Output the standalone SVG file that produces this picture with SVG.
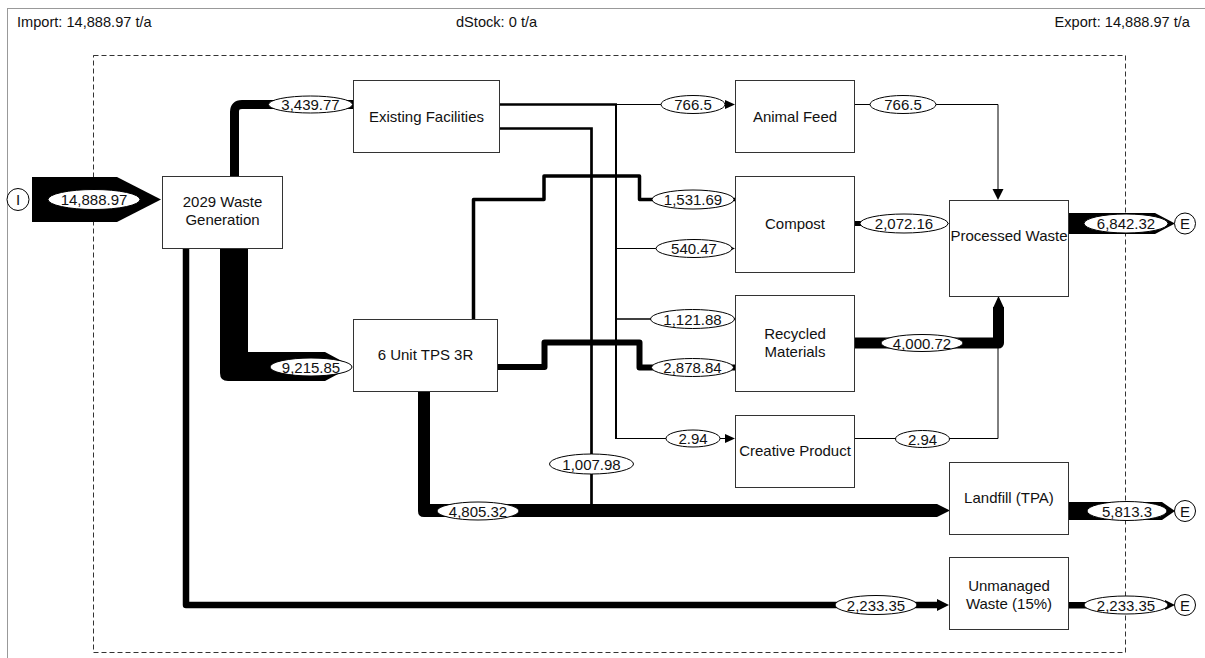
<svg xmlns="http://www.w3.org/2000/svg" width="1205" height="658" viewBox="0 0 1205 658">
<style>
text{font-family:"Liberation Sans",Arial,sans-serif;font-size:15px;fill:#111}
.hdr{font-size:14.6px}
.c{text-anchor:middle}
.box{fill:#fff;stroke:#333;stroke-width:1}
.lbl{fill:#fff;stroke:#000;stroke-width:1}
.io{fill:#fff;stroke:#000;stroke-width:1}
.ln{fill:none;stroke:#000}
.band{fill:#000;stroke:none}
.ah{fill:#000}
</style>
<rect x="0" y="0" width="1205" height="658" fill="#fff"/>
<rect x="7.5" y="8.5" width="1220" height="680" fill="none" stroke="#999" stroke-width="1"/>
<text class="hdr" x="17" y="27">Import: 14,888.97 t/a</text>
<text class="hdr" x="456" y="27">dStock: 0 t/a</text>
<text class="hdr" x="1190" y="27" text-anchor="end">Export: 14,888.97 t/a</text>
<rect id="boundary" x="93.5" y="55.5" width="1032" height="597" fill="none" stroke="#333" stroke-width="1" stroke-dasharray="5,3"/>

<g id="connectors">
  <!-- Import -->
  <polygon class="band" points="32,177 117,177 161,199.5 117,222 32,222"/>
  <!-- Gen -> Existing Facilities -->
  <path class="ln" stroke-width="9" d="M234.5 176 V112 Q234.5 104.5 242 104.5 H353"/>
  <!-- Gen -> TPS -->
  <path class="band" d="M220 248 H248 V352 H325 L352 366.5 L325 381 H228 Q220 381 220 373 Z"/>
  <!-- Gen -> Unmanaged -->
  <path class="ln" stroke-width="6.5" stroke-linejoin="round" d="M186 248 V605 H940"/>
  <polygon class="ah" points="937,599 949,605 937,611"/>
  <!-- TPS -> Landfill -->
  <path class="band" d="M418 391 H430 V504 H937 L950 510.5 L937 517 H424 Q418 517 418 511 Z"/>
  <!-- EF -> Landfill -->
  <path class="ln" stroke-width="2.7" d="M500 128.5 H591.5 V505"/>
  <!-- EF trunk -->
  <path class="ln" stroke-width="2.7" d="M500 104.5 H617"/>
  <path class="ln" stroke-width="2" d="M616 104 V438"/>
  <!-- EF -> Animal Feed -->
  <path class="ln" stroke-width="1" d="M616 104.5 H727"/>
  <polygon class="ah" points="725,100 735,104.5 725,109"/>
  <!-- EF -> Compost -->
  <path class="ln" stroke-width="1" d="M616 248.5 H727"/>
  <polygon class="ah" points="725,244 735,248.5 725,253"/>
  <!-- EF -> Recycled -->
  <path class="ln" stroke-width="1.5" d="M616 319 H735"/>
  <!-- EF -> Creative -->
  <path class="ln" stroke-width="1" d="M615 438.5 H727"/>
  <polygon class="ah" points="725,434 735,438.5 725,443"/>
  <!-- TPS -> Compost -->
  <path class="ln" stroke-width="3.5" stroke-linejoin="round" d="M473.5 319 V199.5 H544 V176 H639.5 V199.5 H735"/>
  <!-- TPS -> Recycled -->
  <path class="ln" stroke-width="6" stroke-linejoin="round" d="M497 367 H544.5 V342.5 H639.5 V367.5 H735"/>
  <!-- Compost -> Processed -->
  <path class="ln" stroke-width="5" d="M855 223.5 H941"/>
  <polygon class="ah" points="939,219 949,223.5 939,228"/>
  <!-- Animal Feed -> Processed -->
  <path class="ln" stroke-width="1" d="M855 104.5 H998 V190"/>
  <polygon class="ah" points="992.5,189 1003.5,189 998,200"/>
  <!-- Creative -> Processed -->
  <path class="ln" stroke-width="1" d="M855 438.5 H998 V300"/>
  <!-- Recycled -> Processed -->
  <path class="ln" stroke-width="11" stroke-linejoin="round" d="M855 343 H998.5 V307"/>
  <polygon class="ah" points="993,308 998.5,296 1004,308"/>
  <!-- Exports -->
  <polygon class="band" points="1069,213 1155,213 1175,223.5 1155,234 1069,234"/>
  <polygon class="band" points="1069,502 1162,502 1175,511 1162,520 1069,520"/>
  <polygon class="band" points="1069,602 1165,602 1165,600 1175,605 1165,610 1165,608.5 1069,608.5"/>

  <!-- labels -->
  <g id="labels">
    <ellipse class="lbl" cx="94" cy="199.5" rx="46" ry="10"/><text class="c" x="94" y="205">14,888.97</text>
    <ellipse class="lbl" cx="310.5" cy="104.5" rx="42" ry="8.5"/><text class="c" x="310.5" y="110">3,439.77</text>
    <ellipse class="lbl" cx="311" cy="367" rx="41" ry="9"/><text class="c" x="311" y="372.5">9,215.85</text>
    <ellipse class="lbl" cx="693" cy="104.5" rx="32" ry="9"/><text class="c" x="693" y="110">766.5</text>
    <ellipse class="lbl" cx="693" cy="199.5" rx="41" ry="9.5"/><text class="c" x="693" y="205">1,531.69</text>
    <ellipse class="lbl" cx="694" cy="248.5" rx="38" ry="9"/><text class="c" x="694" y="254">540.47</text>
    <ellipse class="lbl" cx="692.5" cy="319" rx="42" ry="9.5"/><text class="c" x="692.5" y="324.5">1,121.88</text>
    <ellipse class="lbl" cx="692.5" cy="367.5" rx="41" ry="9"/><text class="c" x="692.5" y="373">2,878.84</text>
    <ellipse class="lbl" cx="693" cy="438.5" rx="27" ry="8.5"/><text class="c" x="693" y="444">2.94</text>
    <ellipse class="lbl" cx="591.5" cy="464" rx="42" ry="10"/><text class="c" x="591.5" y="469.5">1,007.98</text>
    <ellipse class="lbl" cx="478" cy="511" rx="41" ry="9"/><text class="c" x="478" y="516.5">4,805.32</text>
    <ellipse class="lbl" cx="876" cy="605" rx="41" ry="9.5"/><text class="c" x="876" y="610.5">2,233.35</text>
    <ellipse class="lbl" cx="903" cy="104.5" rx="33" ry="9"/><text class="c" x="903" y="110">766.5</text>
    <ellipse class="lbl" cx="904" cy="223.5" rx="44" ry="9.5"/><text class="c" x="904" y="229">2,072.16</text>
    <ellipse class="lbl" cx="922" cy="343" rx="41" ry="8.5"/><text class="c" x="922" y="348.5">4,000.72</text>
    <ellipse class="lbl" cx="922.5" cy="439" rx="27" ry="8.5"/><text class="c" x="922.5" y="444.5">2.94</text>
    <ellipse class="lbl" cx="1126" cy="223.5" rx="42" ry="9.5"/><text class="c" x="1126" y="229">6,842.32</text>
    <ellipse class="lbl" cx="1127" cy="511" rx="40" ry="9.5"/><text class="c" x="1127" y="516.5">5,813.3</text>
    <ellipse class="lbl" cx="1126" cy="605" rx="42" ry="9"/><text class="c" x="1126" y="610.5">2,233.35</text>
  </g>
</g>

<g id="n-import"><circle class="io" cx="18" cy="199.5" r="11"/><text class="c" x="18" y="205">I</text></g>
<g id="n-export1"><circle class="io" cx="1185" cy="223.5" r="10.5"/><text class="c" x="1185" y="229">E</text></g>
<g id="n-export2"><circle class="io" cx="1185" cy="511" r="10.5"/><text class="c" x="1185" y="516.5">E</text></g>
<g id="n-export3"><circle class="io" cx="1185" cy="605" r="10.5"/><text class="c" x="1185" y="610.5">E</text></g>

<g id="n-gen"><rect class="box" x="162.5" y="176.5" width="120" height="72"/><text class="c" x="222.5" y="207">2029 Waste</text><text class="c" x="222.5" y="225">Generation</text></g>
<g id="n-ef"><rect class="box" x="353.5" y="80.5" width="146" height="72"/><text class="c" x="426.5" y="122">Existing Facilities</text></g>
<g id="n-tps"><rect class="box" x="353.5" y="319.5" width="144" height="72"/><text class="c" x="425.5" y="360">6 Unit TPS 3R</text></g>
<g id="n-af"><rect class="box" x="735.5" y="80.5" width="119" height="72"/><text class="c" x="795" y="122">Animal Feed</text></g>
<g id="n-compost"><rect class="box" x="735.5" y="176.5" width="119" height="96"/><text class="c" x="795" y="229">Compost</text></g>
<g id="n-rm"><rect class="box" x="735.5" y="295.5" width="119" height="96"/><text class="c" x="795" y="339">Recycled</text><text class="c" x="795" y="357">Materials</text></g>
<g id="n-cp"><rect class="box" x="735.5" y="415.5" width="119" height="72"/><text class="c" x="795" y="456">Creative Product</text></g>
<g id="n-pw"><rect class="box" x="949.5" y="200.5" width="119" height="96"/><text class="c" x="1009" y="241">Processed Waste</text></g>
<g id="n-lf"><rect class="box" x="949.5" y="462.5" width="119" height="72"/><text class="c" x="1009" y="503">Landfill (TPA)</text></g>
<g id="n-uw"><rect class="box" x="949.5" y="557.5" width="119" height="72"/><text class="c" x="1009" y="591">Unmanaged</text><text class="c" x="1009" y="609">Waste (15%)</text></g>
</svg>
